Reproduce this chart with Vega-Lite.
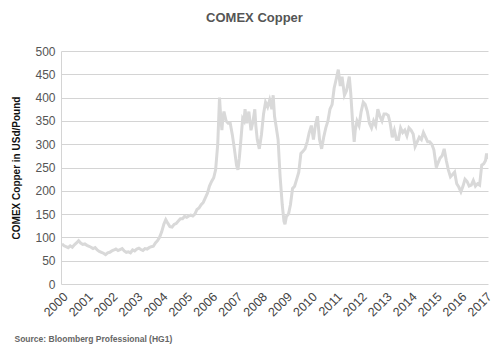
{
  "$schema": "https://vega.github.io/schema/vega-lite/v6.json",
  "autosize": "none",
  "width": 427,
  "height": 233,
  "padding": {"left": 61, "top": 51, "right": 12, "bottom": 68},
  "background": "white",
  "title": {"text": "COMEX Copper", "fontSize": 13, "font": "Liberation Sans", "fontWeight": "bold", "color": "#555555", "dx": -20, "offset": 20, "anchor": "middle"},
  "data": {"values": [
    {"d":"2000-01-15","v":86},{"d":"2000-02-15","v":82},{"d":"2000-03-15","v":80},{"d":"2000-04-15","v":78},{"d":"2000-05-15","v":82},{"d":"2000-06-15","v":79},{"d":"2000-07-15","v":84},{"d":"2000-08-15","v":88},{"d":"2000-09-15","v":93},{"d":"2000-10-15","v":88},{"d":"2000-11-15","v":85},{"d":"2000-12-15","v":86},
    {"d":"2001-01-15","v":83},{"d":"2001-02-15","v":81},{"d":"2001-03-15","v":79},{"d":"2001-04-15","v":76},{"d":"2001-05-15","v":78},{"d":"2001-06-15","v":73},{"d":"2001-07-15","v":70},{"d":"2001-08-15","v":68},{"d":"2001-09-15","v":66},{"d":"2001-10-15","v":63},{"d":"2001-11-15","v":67},{"d":"2001-12-15","v":68},
    {"d":"2002-01-15","v":71},{"d":"2002-02-15","v":73},{"d":"2002-03-15","v":75},{"d":"2002-04-15","v":72},{"d":"2002-05-15","v":74},{"d":"2002-06-15","v":76},{"d":"2002-07-15","v":71},{"d":"2002-08-15","v":68},{"d":"2002-09-15","v":69},{"d":"2002-10-15","v":67},{"d":"2002-11-15","v":73},{"d":"2002-12-15","v":71},
    {"d":"2003-01-15","v":75},{"d":"2003-02-15","v":77},{"d":"2003-03-15","v":74},{"d":"2003-04-15","v":72},{"d":"2003-05-15","v":76},{"d":"2003-06-15","v":75},{"d":"2003-07-15","v":78},{"d":"2003-08-15","v":80},{"d":"2003-09-15","v":81},{"d":"2003-10-15","v":88},{"d":"2003-11-15","v":93},{"d":"2003-12-15","v":100},
    {"d":"2004-01-15","v":112},{"d":"2004-02-15","v":128},{"d":"2004-03-15","v":138},{"d":"2004-04-15","v":130},{"d":"2004-05-15","v":123},{"d":"2004-06-15","v":122},{"d":"2004-07-15","v":128},{"d":"2004-08-15","v":130},{"d":"2004-09-15","v":135},{"d":"2004-10-15","v":140},{"d":"2004-11-15","v":140},{"d":"2004-12-15","v":145},
    {"d":"2005-01-15","v":143},{"d":"2005-02-15","v":146},{"d":"2005-03-15","v":148},{"d":"2005-04-15","v":146},{"d":"2005-05-15","v":150},{"d":"2005-06-15","v":160},{"d":"2005-07-15","v":163},{"d":"2005-08-15","v":170},{"d":"2005-09-15","v":175},{"d":"2005-10-15","v":185},{"d":"2005-11-15","v":195},{"d":"2005-12-15","v":210},
    {"d":"2006-01-15","v":220},{"d":"2006-02-15","v":228},{"d":"2006-03-15","v":245},{"d":"2006-04-15","v":300},{"d":"2006-05-11","v":400},{"d":"2006-05-28","v":360},{"d":"2006-06-15","v":330},{"d":"2006-06-28","v":355},{"d":"2006-07-15","v":370},{"d":"2006-08-15","v":350},{"d":"2006-09-15","v":345},{"d":"2006-10-15","v":345},{"d":"2006-11-15","v":320},{"d":"2006-12-15","v":290},
    {"d":"2007-01-15","v":255},{"d":"2007-02-05","v":245},{"d":"2007-02-25","v":270},{"d":"2007-03-15","v":300},{"d":"2007-04-15","v":355},{"d":"2007-05-05","v":350},{"d":"2007-05-20","v":375},{"d":"2007-06-15","v":345},{"d":"2007-07-15","v":370},{"d":"2007-08-15","v":330},{"d":"2007-09-15","v":350},{"d":"2007-10-10","v":375},{"d":"2007-10-25","v":340},{"d":"2007-11-15","v":310},{"d":"2007-12-15","v":290},
    {"d":"2008-01-15","v":320},{"d":"2008-02-15","v":365},{"d":"2008-03-15","v":390},{"d":"2008-04-15","v":380},{"d":"2008-05-15","v":395},{"d":"2008-06-15","v":375},{"d":"2008-07-05","v":405},{"d":"2008-07-25","v":360},{"d":"2008-08-15","v":340},{"d":"2008-09-15","v":310},{"d":"2008-10-15","v":230},{"d":"2008-11-15","v":170},{"d":"2008-12-10","v":135},{"d":"2008-12-25","v":128},
    {"d":"2009-01-15","v":145},{"d":"2009-02-15","v":150},{"d":"2009-03-15","v":170},{"d":"2009-04-15","v":205},{"d":"2009-05-15","v":210},{"d":"2009-06-15","v":225},{"d":"2009-07-15","v":240},{"d":"2009-08-15","v":280},{"d":"2009-09-15","v":285},{"d":"2009-10-15","v":290},{"d":"2009-11-15","v":305},{"d":"2009-12-15","v":325},
    {"d":"2010-01-15","v":340},{"d":"2010-02-15","v":310},{"d":"2010-03-15","v":340},{"d":"2010-04-15","v":360},{"d":"2010-05-15","v":310},{"d":"2010-06-15","v":290},{"d":"2010-07-15","v":315},{"d":"2010-08-15","v":335},{"d":"2010-09-15","v":350},{"d":"2010-10-15","v":375},{"d":"2010-11-15","v":385},{"d":"2010-12-15","v":420},
    {"d":"2011-01-15","v":440},{"d":"2011-02-14","v":460},{"d":"2011-03-15","v":425},{"d":"2011-04-10","v":445},{"d":"2011-05-15","v":405},{"d":"2011-06-15","v":415},{"d":"2011-07-25","v":445},{"d":"2011-08-15","v":410},{"d":"2011-09-15","v":340},{"d":"2011-10-05","v":305},{"d":"2011-10-20","v":330},{"d":"2011-11-15","v":350},{"d":"2011-12-15","v":340},
    {"d":"2012-01-15","v":370},{"d":"2012-02-15","v":390},{"d":"2012-03-15","v":385},{"d":"2012-04-15","v":370},{"d":"2012-05-15","v":345},{"d":"2012-06-15","v":335},{"d":"2012-07-15","v":350},{"d":"2012-08-15","v":340},{"d":"2012-09-15","v":375},{"d":"2012-10-15","v":360},{"d":"2012-11-15","v":350},{"d":"2012-12-15","v":365},
    {"d":"2013-01-15","v":365},{"d":"2013-02-15","v":362},{"d":"2013-03-15","v":345},{"d":"2013-04-15","v":315},{"d":"2013-05-15","v":330},{"d":"2013-06-15","v":310},{"d":"2013-07-15","v":310},{"d":"2013-08-15","v":335},{"d":"2013-09-15","v":325},{"d":"2013-10-15","v":330},{"d":"2013-11-15","v":318},{"d":"2013-12-15","v":335},
    {"d":"2014-01-15","v":330},{"d":"2014-02-15","v":322},{"d":"2014-03-15","v":295},{"d":"2014-04-15","v":305},{"d":"2014-05-15","v":315},{"d":"2014-06-15","v":310},{"d":"2014-07-15","v":325},{"d":"2014-08-15","v":315},{"d":"2014-09-15","v":305},{"d":"2014-10-15","v":305},{"d":"2014-11-15","v":300},{"d":"2014-12-15","v":288},
    {"d":"2015-01-20","v":250},{"d":"2015-02-15","v":260},{"d":"2015-03-15","v":270},{"d":"2015-04-15","v":275},{"d":"2015-05-15","v":290},{"d":"2015-06-15","v":265},{"d":"2015-07-15","v":245},{"d":"2015-08-15","v":230},{"d":"2015-09-15","v":235},{"d":"2015-10-15","v":240},{"d":"2015-11-15","v":215},{"d":"2015-12-15","v":208},
    {"d":"2016-01-15","v":198},{"d":"2016-02-15","v":210},{"d":"2016-03-15","v":225},{"d":"2016-04-15","v":220},{"d":"2016-05-15","v":210},{"d":"2016-06-15","v":212},{"d":"2016-07-15","v":222},{"d":"2016-08-15","v":210},{"d":"2016-09-15","v":215},{"d":"2016-10-15","v":212},{"d":"2016-11-15","v":255},{"d":"2016-12-15","v":258},
    {"d":"2017-01-10","v":265},{"d":"2017-01-25","v":280},{"d":"2017-02-10","v":268}
  ]},
  "mark": {"type": "line", "color": "#d9d9d9", "strokeWidth": 3, "clip": true},
  "encoding": {
    "x": {"field": "d", "type": "temporal",
      "scale": {"domain": ["2000-01-01", "2017-02-15"]},
      "axis": {"format": "%Y", "tickCount": {"interval": "year", "step": 1}, "labelAngle": -45, "grid": false, "domain": false, "ticks": false,
        "labelFont": "Liberation Sans", "labelFontSize": 12.5, "labelColor": "#444444", "labelPadding": 6, "labelOverlap": false,
        "title": "Source: Bloomberg Professional (HG1)", "titleFont": "Liberation Sans", "titleFontSize": 8.5, "titleFontWeight": "bold", "titleColor": "#666666",
        "titleAnchor": "start", "titleAlign": "left", "titleX": -47, "titleY": 50, "titleBaseline": "top"}},
    "y": {"field": "v", "type": "quantitative",
      "scale": {"domain": [0, 500], "nice": false},
      "axis": {"values": [0,50,100,150,200,250,300,350,400,450,500], "grid": true, "gridColor": "#d4d4d4", "gridWidth": 1, "domain": true, "domainColor": "#d4d4d4", "ticks": false,
        "labelFont": "Liberation Sans", "labelFontSize": 12, "labelColor": "#555555", "labelPadding": 6,
        "title": "COMEX Copper in USd/Pound", "titleFont": "Liberation Sans", "titleFontSize": 10, "titleFontWeight": "bold", "titleColor": "#111111", "titlePadding": 13}}
  },
  "config": {"view": {"stroke": null}}
}
